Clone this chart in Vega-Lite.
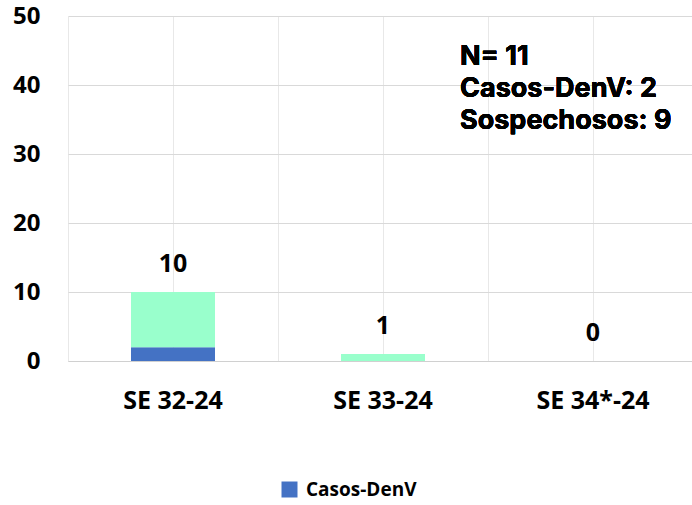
{
  "$schema": "https://vega.github.io/schema/vega-lite/v6.json",
  "width": 630,
  "height": 345,
  "autosize": {"type": "none"},
  "padding": {"left": 68, "top": 16, "right": 0, "bottom": 144},
  "background": "white",
  "config": {
    "view": {"stroke": null},
    "font": "Open Sans"
  },
  "data": {
    "values": [
      {"semana": "SE 32-24", "serie": "Casos-DenV", "valor": 2, "orden": 1},
      {"semana": "SE 32-24", "serie": "Sospechosos", "valor": 8, "orden": 2},
      {"semana": "SE 33-24", "serie": "Casos-DenV", "valor": 0, "orden": 1},
      {"semana": "SE 33-24", "serie": "Sospechosos", "valor": 1, "orden": 2},
      {"semana": "SE 34*-24", "serie": "Casos-DenV", "valor": 0, "orden": 1},
      {"semana": "SE 34*-24", "serie": "Sospechosos", "valor": 0, "orden": 2}
    ]
  },
  "resolve": {"axis": {"x": "independent"}},
  "layer": [
    {
      "mark": {"type": "bar"},
      "encoding": {
        "x": {
          "field": "semana", "type": "nominal", "sort": null,
          "scale": {"paddingInner": 0.6, "paddingOuter": 0.3},
          "axis": {
            "title": null, "labelAngle": 0, "grid": true, "gridColor": "#e8e8e8",
            "ticks": false, "domainColor": "#d0d0d0", "labelFont": "Open Sans",
            "labelFontSize": 25, "labelFontWeight": "bold", "labelColor": "#000000",
            "labelPadding": 27
          }
        },
        "y": {
          "field": "valor", "type": "quantitative", "aggregate": "sum", "stack": "zero",
          "scale": {"domain": [0, 50]},
          "axis": {
            "title": null, "values": [0, 10, 20, 30, 40, 50], "grid": true,
            "gridColor": "#d9d9d9", "domain": false, "ticks": false,
            "labelFont": "Open Sans", "labelFontSize": 24, "labelFontWeight": "bold",
            "labelColor": "#000000", "labelPadding": 28
          }
        },
        "color": {
          "field": "serie", "type": "nominal",
          "scale": {"domain": ["Casos-DenV", "Sospechosos"], "range": ["#4472C4", "#99FFCC"]},
          "legend": {
            "values": ["Casos-DenV"], "title": null, "orient": "none",
            "legendX": 212, "legendY": 464, "symbolType": "square", "symbolSize": 256,
            "symbolStrokeWidth": 0,
            "labelFont": "Open Sans", "labelFontSize": 19, "labelFontWeight": "bold",
            "labelColor": "#000000", "labelOffset": 7
          }
        },
        "order": {"field": "orden", "type": "quantitative", "sort": "ascending"}
      }
    },
    {
      "mark": {"type": "text", "baseline": "middle", "dy": -28, "fontSize": 25, "fontWeight": "bold", "font": "Open Sans", "color": "#000000"},
      "encoding": {
        "x": {
          "field": "semana", "type": "nominal", "sort": null,
          "axis": {
            "orient": "top", "title": null, "labels": false, "ticks": false, "domain": false,
            "grid": true, "gridColor": "#e8e8e8", "bandPosition": -0.75
          }
        },
        "y": {"field": "valor", "type": "quantitative", "aggregate": "sum"},
        "text": {"field": "valor", "type": "quantitative", "aggregate": "sum"}
      }
    },
    {
      "mark": {"type": "text", "align": "left", "baseline": "top", "dx": -91, "fontSize": 27, "fontWeight": "bold", "font": "Inter", "color": "#000000", "lineHeight": 32},
      "encoding": {
        "x": {"datum": "SE 34*-24", "type": "nominal", "bandPosition": 0, "axis": null},
        "y": {"datum": 46, "type": "quantitative"},
        "text": {"value": ["N= 11", "Casos-DenV: 2", "Sospechosos: 9"]}
      }
    }
  ]
}
